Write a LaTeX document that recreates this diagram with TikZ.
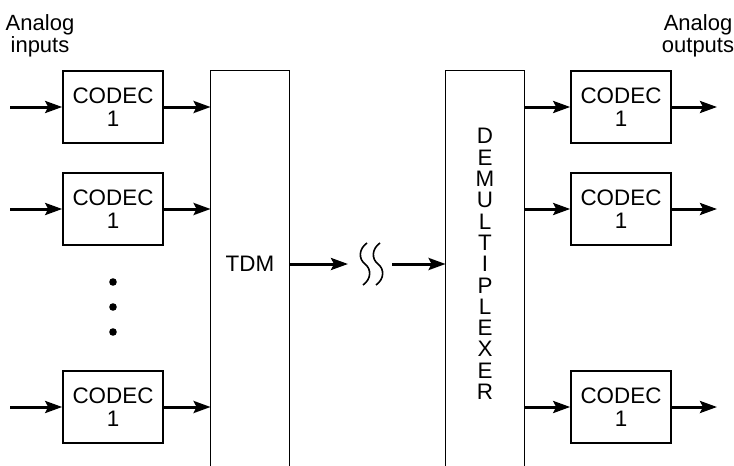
\documentclass[tikz,border=0pt]{standalone}
\usepackage{fontspec}
\setmainfont{Liberation Sans}
\usepackage{xcolor}
\usetikzlibrary{arrows.meta, positioning}
\definecolor{tdmink}{RGB}{0, 0, 0}
\tikzset{
  codec/.style={rectangle, draw=tdmink, line width=0.8pt, minimum width=50pt,
                minimum height=36pt, inner sep=0pt, align=center,
                font=\fontsize{11.2}{11.6}\selectfont},
  muxbox/.style={rectangle, minimum width=39pt, minimum height=193pt, inner sep=0pt,
                 align=center, font=\fontsize{11.2}{10.65}\selectfont},
  sideline/.style={line width=0.8pt, color=tdmink},
  arrow/.style={-{Stealth[length=8.5pt, width=6pt, inset=1.5pt]}, line width=1.5pt, color=tdmink},
  wave/.style={line width=0.8pt, color=tdmink},
  caption/.style={align=center, inner sep=0pt, font=\fontsize{11}{11}\selectfont},
  dot/.style={circle, fill=tdmink, inner sep=0pt, minimum size=3.8pt},
}
\begin{document}
\begin{tikzpicture}[x=0.5pt, y=-0.5pt]
  \useasboundingbox (0,0) rectangle (734,466);
  \coordinate (bottom) at (0,466);
  \coordinate (inedge) at (10,0);
  \coordinate (outedge) at (717,0);

  % side captions
  \node[caption] (inlabel) at (40,36) {Analog\\inputs};
  \node[caption] (outlabel) at (698,36) {Analog\\outputs};

  % codec columns
  \node[codec] (cin1) at (113,107) {CODEC\\1};
  \node[codec] (cin2) at (113,209) {CODEC\\1};
  \node[codec] (cin3) at (113,407) {CODEC\\1};
  \node[codec] (cout1) at (621,107) {CODEC\\1};
  \node[codec] (cout2) at (621,209) {CODEC\\1};
  \node[codec] (cout3) at (621,407) {CODEC\\1};
  \node[dot] (dot1) at (113,282) {};
  \node[dot] (dot2) at (113,307) {};
  \node[dot] (dot3) at (113,332) {};

  % multiplexer and demultiplexer
  \node[muxbox] (tdm) at (250,264) {TDM};
  \node[muxbox] (demux) at (485,264) {D\\E\\M\\U\\L\\T\\I\\P\\L\\E\\X\\E\\R};
  \draw[sideline] (tdm.west |- bottom) -- (tdm.north west) -- (tdm.north east) -- (tdm.east |- bottom);
  \draw[sideline] (demux.west |- bottom) -- (demux.north west) -- (demux.north east) -- (demux.east |- bottom);

  \foreach \n in {1,2,3} {
    \draw[arrow] (inedge |- cin\n) -- (cin\n);
    \draw[arrow] (cin\n) -- (cin\n -| tdm.west);
    \draw[arrow] (demux.east |- cout\n) -- (cout\n);
    \draw[arrow] (cout\n) -- (outedge |- cout\n);
  }

  % transmission link
  \coordinate (gap) at (371.5,264);
  \coordinate (gapin) at (348,264);
  \coordinate (gapout) at (392,264);
  \draw[arrow] (tdm) -- (gapin);
  \draw[arrow] (gapout) -- (demux);
  \begin{scope}[shift={(gap)}]
    \foreach \dx in {-6.5,6.5}
      \draw[wave] ({\dx+2},-21) .. controls ({\dx-6.5},-15) and ({\dx-6.5},-5) .. (\dx,0)
                  .. controls ({\dx+6.5},5) and ({\dx+6.5},15) .. ({\dx-2},21);
  \end{scope}
\end{tikzpicture}
\end{document}
